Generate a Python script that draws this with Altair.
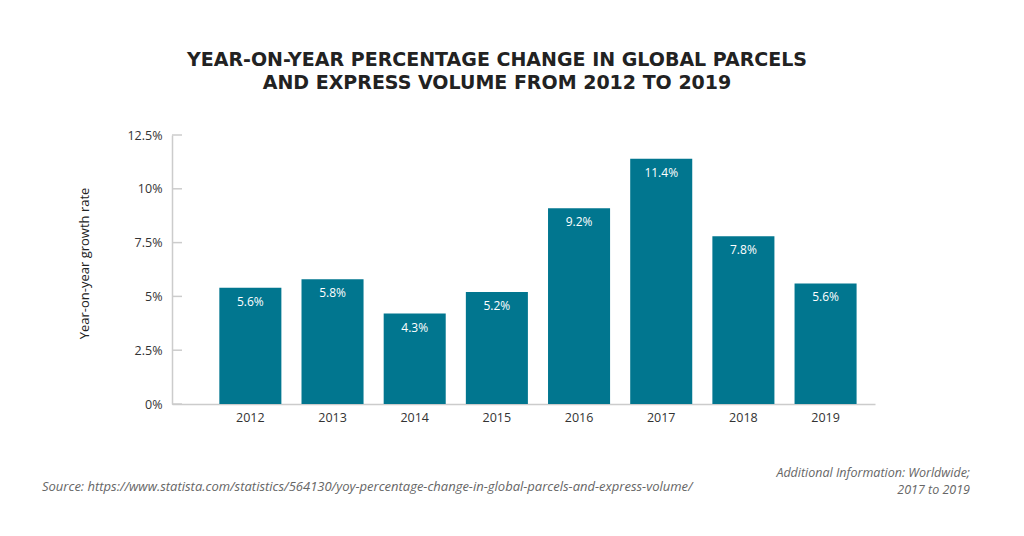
import altair as alt
import pandas as pd

years = ["2012", "2013", "2014", "2015", "2016", "2017", "2018", "2019"]
bar_values = [5.4, 5.8, 4.2, 5.2, 9.1, 11.4, 7.8, 5.6]
bar_labels = ["5.6%", "5.8%", "4.3%", "5.2%", "9.2%", "11.4%", "7.8%", "5.6%"]
y_ticks = [0, 2.5, 5, 7.5, 10, 12.5]

title_lines = ["YEAR-ON-YEAR PERCENTAGE CHANGE IN GLOBAL PARCELS",
               "AND EXPRESS VOLUME FROM 2012 TO 2019"]
source_text = "Source: https://www.statista.com/statistics/564130/yoy-percentage-change-in-global-parcels-and-express-volume/"
info_lines = ["Additional Information: Worldwide;", "2017 to 2019"]

FONT = "Open Sans"
BAR = "#01768f"
W, H = 703, 269

df = pd.DataFrame({"year": years, "value": bar_values, "label": bar_labels})
ticks_df = pd.DataFrame({"v": y_ticks})
one = pd.DataFrame({"k": [0]})

x = alt.X("year:O",
          scale=alt.Scale(paddingInner=0.245, paddingOuter=0.4, align=0.72),
          axis=alt.Axis(title=None, labelAngle=0, ticks=False, domainColor="#cccccc",
                        domainWidth=1.5, labelPadding=7, labelFontSize=12.5,
                        labelColor="#333333", labelFont=FONT))
y = alt.Y("value:Q",
          scale=alt.Scale(domain=[0, 12.5], nice=False),
          axis=alt.Axis(values=y_ticks, labelExpr="datum.value + '%'", ticks=False,
                        grid=False, domainColor="#cccccc", domainWidth=1.5,
                        labelPadding=10, labelFontSize=12.5, labelColor="#333333",
                        labelFont=FONT, title="Year-on-year growth rate",
                        titleFont=FONT, titleFontSize=13, titleFontWeight="normal",
                        titleColor="#222222", titleX=-88, titleY=128,
                        titleBaseline="middle"))

bars = alt.Chart(df).mark_bar(color=BAR).encode(x=x, y=y)
labels = alt.Chart(df).mark_text(dy=14, color="white", fontSize=12, font=FONT,
                                 baseline="middle").encode(x="year:O", y="value:Q",
                                                           text="label:N")
tickmarks = alt.Chart(ticks_df).mark_rule(color="#cccccc", strokeWidth=1.5).encode(
    y=alt.Y("v:Q"), x=alt.value(0), x2=alt.value(10))

title = alt.Chart(one).mark_text(text=title_lines, fontSize=19, font="DejaVu Sans",
                                 fontWeight="bold", color="#222222", lineHeight=23,
                                 align="center", baseline="middle").encode(
    x=alt.value(325), y=alt.value(-75))
source = alt.Chart(one).mark_text(text=source_text, fontSize=13, font=FONT,
                                  fontStyle="italic", color="#666666",
                                  align="left", baseline="middle").encode(
    x=alt.value(-130), y=alt.value(352))
info1 = alt.Chart(one).mark_text(text=info_lines[0], fontSize=12.5, font=FONT,
                                 fontStyle="italic", color="#666666",
                                 align="right", baseline="middle").encode(
    x=alt.value(798), y=alt.value(338))
info2 = alt.Chart(one).mark_text(text=info_lines[1], fontSize=12.5, font=FONT,
                                 fontStyle="italic", color="#666666",
                                 align="right", baseline="middle").encode(
    x=alt.value(798), y=alt.value(355))

chart = alt.layer(bars, labels, tickmarks, title, source, info1, info2).properties(
    width=W, height=H,
    autosize=alt.AutoSizeParams(type="none"),
    padding={"left": 164, "top": 127, "right": 141, "bottom": 124},
    background="white",
).configure_view(stroke=None)

chart.save("out.html", embed_options={"renderer": "svg", "actions": False})
